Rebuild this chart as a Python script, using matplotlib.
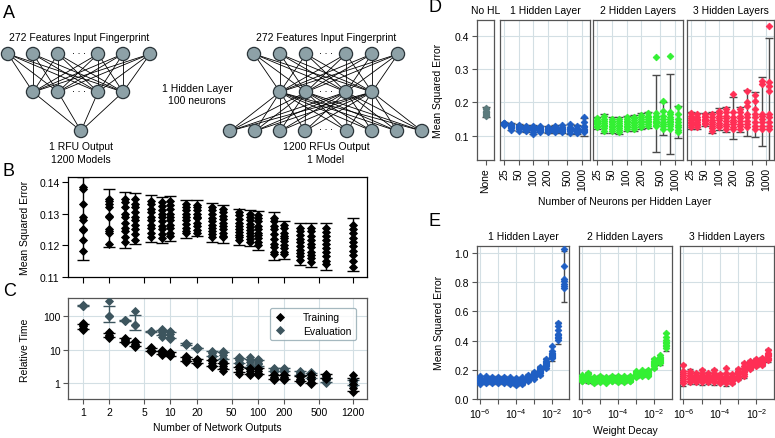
import numpy as np
import matplotlib
matplotlib.use("Agg")
import matplotlib.pyplot as plt
from matplotlib.patches import Circle
from matplotlib.ticker import NullLocator, FixedLocator

plt.rcParams['font.family'] = ['Liberation Sans', 'DejaVu Sans']
plt.rcParams['mathtext.fontset'] = 'custom'
plt.rcParams['mathtext.rm'] = 'Liberation Sans'
plt.rcParams['mathtext.it'] = 'Liberation Sans:italic'
plt.rcParams['mathtext.bf'] = 'Liberation Sans:bold'
plt.rcParams['font.size'] = 7.5

# ---------------- data ----------------
b_outputs = [1, 2, 3, 4, 6, 8, 10, 15, 20, 30, 40, 60, 80, 100, 150, 200, 300, 400, 600, 1200]
b_mse = [
    [0.1385, 0.1378, 0.1330, 0.1288, 0.1278, 0.1252, 0.1248, 0.1215, 0.1183],
    [0.1345, 0.1340, 0.1330, 0.1320, 0.1293, 0.1290, 0.1250, 0.1245, 0.1240, 0.1205],
    [0.1345, 0.1335, 0.1320, 0.1300, 0.1290, 0.1270, 0.1255, 0.1245, 0.1225, 0.1210],
    [0.1345, 0.1330, 0.1320, 0.1305, 0.1290, 0.1280, 0.1265, 0.1250, 0.1235, 0.1215],
    [0.1340, 0.1330, 0.1315, 0.1305, 0.1290, 0.1280, 0.1265, 0.1255, 0.1240, 0.1225],
    [0.1335, 0.1325, 0.1310, 0.1300, 0.1290, 0.1275, 0.1262, 0.1250, 0.1235, 0.1222],
    [0.1338, 0.1328, 0.1315, 0.1300, 0.1290, 0.1280, 0.1265, 0.1255, 0.1240, 0.1228],
    [0.1330, 0.1320, 0.1310, 0.1300, 0.1290, 0.1280, 0.1268, 0.1255, 0.1245, 0.1238],
    [0.1328, 0.1320, 0.1310, 0.1298, 0.1290, 0.1285, 0.1270, 0.1260, 0.1248, 0.1240],
    [0.1320, 0.1310, 0.1298, 0.1285, 0.1275, 0.1265, 0.1255, 0.1245, 0.1235, 0.1225],
    [0.1315, 0.1305, 0.1292, 0.1282, 0.1270, 0.1262, 0.1250, 0.1240, 0.1230, 0.1225],
    [0.1305, 0.1295, 0.1283, 0.1270, 0.1262, 0.1250, 0.1242, 0.1233, 0.1225, 0.1215],
    [0.1300, 0.1290, 0.1280, 0.1268, 0.1258, 0.1248, 0.1240, 0.1230, 0.1220, 0.1210],
    [0.1295, 0.1285, 0.1275, 0.1262, 0.1250, 0.1240, 0.1232, 0.1222, 0.1210, 0.1200],
    [0.1285, 0.1275, 0.1262, 0.1250, 0.1235, 0.1220, 0.1205, 0.1195, 0.1180, 0.1172],
    [0.1265, 0.1255, 0.1240, 0.1230, 0.1222, 0.1212, 0.1200, 0.1190, 0.1180, 0.1172],
    [0.1255, 0.1245, 0.1232, 0.1220, 0.1210, 0.1198, 0.1185, 0.1175, 0.1165, 0.1155],
    [0.1255, 0.1245, 0.1230, 0.1218, 0.1205, 0.1195, 0.1180, 0.1170, 0.1160, 0.1148],
    [0.1255, 0.1242, 0.1228, 0.1215, 0.1205, 0.1190, 0.1178, 0.1165, 0.1150, 0.1140],
    [0.1265, 0.1252, 0.1238, 0.1222, 0.1210, 0.1198, 0.1182, 0.1168, 0.1150, 0.1133],
]

c_ticks = [1, 2, 5, 10, 20, 50, 100, 200, 500, 1200]
c_train = [
    [38, 44, 50, 56, 63], [23, 26, 28, 31, 34], [16, 18, 19.5, 21, 23], [12, 14, 15, 16.5, 18],
    [8.5, 9.5, 10, 11, 12], [7, 7.8, 8.3, 9, 9.8], [6.3, 7, 7.4, 8, 8.6], [4.3, 4.8, 5.2, 5.7, 6.3],
    [3.7, 4.1, 4.5, 4.9, 5.4], [3.0, 3.5, 3.9, 4.5, 5.2], [2.3, 2.8, 3.3, 3.8, 4.2], [1.9, 2.2, 2.6, 3.0, 3.3],
    [1.7, 2.0, 2.3, 2.6, 2.9], [1.7, 2.0, 2.3, 2.6, 2.9], [1.2, 1.4, 1.5, 1.7, 1.9], [1.2, 1.4, 1.5, 1.7, 1.9],
    [1.05, 1.2, 1.35, 1.5, 1.7], [0.93, 1.1, 1.3, 1.55, 1.9], [1.3, 1.45, 1.6, 1.75, 1.9], [0.52, 0.7, 0.9, 1.2, 1.7],
]
c_eval = [
    [205, 208, 210, 212, 215], [282, 104, 104, 104, 104], [72, 74, 75, 76, 78], [147, 56, 56, 56, 56],
    [34, 35, 35.5, 36, 37], [41.5, 37, 35, 30, 24.5], [37, 33, 29, 24, 21], [14, 14.5, 14.8, 15.2, 15.6],
    [10.7, 11, 11.2, 11.4, 11.7], [5.9, 6.8, 7.8, 8.6, 9.3], [4.7, 5.8, 6.8, 8.0, 9.3], [3.7, 4.3, 4.9, 5.4, 5.9],
    [2.6, 3.4, 4.2, 5.0, 5.9], [3.0, 3.6, 4.1, 4.7, 5.2], [2.1, 2.3, 2.5, 2.7, 2.9], [2.1, 2.3, 2.5, 2.7, 2.9],
    [1.7, 1.85, 2.0, 2.15, 2.3], [1.3, 1.5, 1.7, 1.9, 2.1], [1.0, 1.1, 1.2, 1.35, 1.5], [0.83, 0.95, 1.05, 1.15, 1.3],
]

d_neurons = [25, 35, 50, 71, 100, 141, 200, 283, 400, 566, 800, 1131]
d_ticks = [25, 50, 100, 200, 500, 1000]
d_none = [0.160, 0.163, 0.166, 0.168, 0.170, 0.172, 0.175, 0.180, 0.183]
d_hl1 = [
    [0.133, 0.135, 0.136, 0.137, 0.138, 0.139, 0.136, 0.134],
    [0.118, 0.122, 0.125, 0.128, 0.130, 0.132, 0.134, 0.126],
    [0.115, 0.119, 0.122, 0.125, 0.127, 0.129, 0.131, 0.124],
    [0.113, 0.117, 0.120, 0.122, 0.125, 0.127, 0.130, 0.121],
    [0.105, 0.112, 0.116, 0.119, 0.122, 0.125, 0.128, 0.118],
    [0.112, 0.115, 0.118, 0.120, 0.122, 0.125, 0.128, 0.119],
    [0.110, 0.114, 0.117, 0.119, 0.121, 0.124, 0.127, 0.118],
    [0.110, 0.114, 0.117, 0.120, 0.122, 0.125, 0.130, 0.119],
    [0.110, 0.114, 0.118, 0.120, 0.123, 0.126, 0.132, 0.120],
    [0.108, 0.113, 0.117, 0.120, 0.123, 0.127, 0.135, 0.119],
    [0.108, 0.112, 0.115, 0.118, 0.121, 0.124, 0.130, 0.117],
    [0.110, 0.114, 0.118, 0.121, 0.125, 0.130, 0.140, 0.155],
]
d_hl2 = [
    [0.125, 0.130, 0.134, 0.137, 0.140, 0.143, 0.148, 0.153],
    [0.115, 0.122, 0.128, 0.133, 0.138, 0.143, 0.150, 0.160],
    [0.115, 0.120, 0.125, 0.130, 0.135, 0.140, 0.145, 0.150],
    [0.110, 0.117, 0.123, 0.128, 0.133, 0.138, 0.144, 0.150],
    [0.120, 0.125, 0.130, 0.135, 0.140, 0.145, 0.150, 0.155],
    [0.120, 0.126, 0.132, 0.137, 0.142, 0.147, 0.152, 0.157],
    [0.125, 0.130, 0.135, 0.140, 0.145, 0.150, 0.156, 0.163],
    [0.130, 0.135, 0.140, 0.145, 0.150, 0.155, 0.160, 0.167],
    [0.130, 0.133, 0.137, 0.141, 0.145, 0.150, 0.155, 0.160, 0.168, 0.335],
    [0.120, 0.128, 0.135, 0.142, 0.150, 0.160, 0.175, 0.203],
    [0.120, 0.128, 0.135, 0.142, 0.145, 0.150, 0.157, 0.165, 0.172, 0.340],
    [0.110, 0.118, 0.125, 0.132, 0.140, 0.150, 0.165, 0.187],
]
d_hl3 = [
    [0.125, 0.131, 0.137, 0.142, 0.147, 0.152, 0.158, 0.167],
    [0.125, 0.131, 0.136, 0.141, 0.146, 0.151, 0.157, 0.165],
    [0.135, 0.139, 0.143, 0.147, 0.151, 0.155, 0.160, 0.165],
    [0.115, 0.122, 0.129, 0.135, 0.141, 0.148, 0.156, 0.165],
    [0.125, 0.132, 0.139, 0.146, 0.152, 0.159, 0.167, 0.175],
    [0.120, 0.128, 0.136, 0.144, 0.152, 0.160, 0.170, 0.180],
    [0.120, 0.127, 0.134, 0.141, 0.148, 0.156, 0.170, 0.225],
    [0.120, 0.128, 0.136, 0.144, 0.152, 0.160, 0.170, 0.180],
    [0.125, 0.135, 0.145, 0.155, 0.165, 0.190, 0.200, 0.235],
    [0.120, 0.130, 0.140, 0.155, 0.165, 0.180, 0.205, 0.222],
    [0.120, 0.130, 0.140, 0.150, 0.158, 0.165, 0.255, 0.265],
    [0.120, 0.130, 0.140, 0.155, 0.165, 0.235, 0.250, 0.260, 0.428],
]

e_decay = [1e-6, 2.15e-6, 4.64e-6, 1e-5, 2.15e-5, 4.64e-5, 1e-4, 2.15e-4, 4.64e-4,
           1e-3, 2.15e-3, 4.64e-3, 1e-2, 2.15e-2, 4.64e-2]
e_hl1 = [
    [0.105, 0.115, 0.122, 0.128, 0.133, 0.138, 0.145, 0.155],
    [0.110, 0.118, 0.124, 0.130, 0.135, 0.140, 0.146, 0.155],
    [0.110, 0.117, 0.123, 0.129, 0.134, 0.139, 0.145, 0.152],
    [0.110, 0.117, 0.123, 0.128, 0.133, 0.138, 0.144, 0.152],
    [0.108, 0.115, 0.121, 0.127, 0.132, 0.137, 0.143, 0.150],
    [0.105, 0.112, 0.118, 0.124, 0.130, 0.135, 0.140, 0.148],
    [0.095, 0.105, 0.112, 0.118, 0.124, 0.130, 0.136, 0.142],
    [0.105, 0.112, 0.118, 0.124, 0.130, 0.135, 0.140, 0.148],
    [0.120, 0.128, 0.135, 0.141, 0.147, 0.153, 0.158, 0.165],
    [0.140, 0.148, 0.155, 0.161, 0.167, 0.173, 0.180, 0.188],
    [0.165, 0.175, 0.183, 0.190, 0.197, 0.204, 0.212, 0.220],
    [0.215, 0.225, 0.233, 0.240, 0.247, 0.254, 0.262, 0.272],
    [0.280, 0.288, 0.295, 0.302, 0.308, 0.315, 0.330, 0.365],
    [0.405, 0.415, 0.425, 0.435, 0.445, 0.470, 0.500, 0.520],
    [0.760, 0.775, 0.790, 0.805, 0.820, 0.910, 1.025],
]
e_hl2 = [
    [0.120, 0.126, 0.132, 0.138, 0.143, 0.148, 0.154, 0.162],
    [0.120, 0.128, 0.136, 0.143, 0.150, 0.158, 0.168, 0.180],
    [0.110, 0.117, 0.123, 0.129, 0.134, 0.139, 0.145, 0.152],
    [0.115, 0.121, 0.127, 0.133, 0.138, 0.143, 0.149, 0.156],
    [0.112, 0.118, 0.124, 0.129, 0.134, 0.139, 0.144, 0.150],
    [0.120, 0.126, 0.132, 0.137, 0.142, 0.147, 0.153, 0.160],
    [0.118, 0.124, 0.130, 0.136, 0.141, 0.146, 0.152, 0.158],
    [0.115, 0.121, 0.127, 0.133, 0.138, 0.143, 0.149, 0.155],
    [0.120, 0.126, 0.132, 0.137, 0.142, 0.147, 0.153, 0.160],
    [0.150, 0.156, 0.161, 0.166, 0.171, 0.176, 0.182, 0.190],
    [0.155, 0.161, 0.167, 0.172, 0.177, 0.182, 0.188, 0.196],
    [0.160, 0.166, 0.172, 0.177, 0.182, 0.187, 0.193, 0.200],
    [0.215, 0.224, 0.232, 0.239, 0.246, 0.253, 0.261, 0.272],
    [0.245, 0.252, 0.259, 0.265, 0.271, 0.278, 0.286, 0.300],
    [0.350, 0.362, 0.373, 0.383, 0.393, 0.405, 0.425, 0.450],
]
e_hl3 = [
    [0.110, 0.125, 0.138, 0.150, 0.162, 0.175, 0.195, 0.235],
    [0.115, 0.125, 0.135, 0.145, 0.155, 0.165, 0.178, 0.195],
    [0.115, 0.124, 0.133, 0.142, 0.150, 0.158, 0.167, 0.178],
    [0.115, 0.125, 0.135, 0.145, 0.155, 0.165, 0.180, 0.200],
    [0.115, 0.124, 0.133, 0.142, 0.150, 0.158, 0.167, 0.180],
    [0.115, 0.125, 0.135, 0.145, 0.155, 0.165, 0.180, 0.200],
    [0.110, 0.118, 0.126, 0.134, 0.142, 0.150, 0.158, 0.168],
    [0.110, 0.120, 0.130, 0.140, 0.150, 0.160, 0.175, 0.210],
    [0.112, 0.120, 0.128, 0.136, 0.144, 0.152, 0.160, 0.170],
    [0.140, 0.150, 0.160, 0.170, 0.178, 0.186, 0.195, 0.205],
    [0.160, 0.172, 0.184, 0.195, 0.205, 0.215, 0.228, 0.245],
    [0.205, 0.213, 0.221, 0.229, 0.236, 0.243, 0.251, 0.262],
    [0.225, 0.233, 0.240, 0.247, 0.253, 0.259, 0.266, 0.275],
    [0.230, 0.238, 0.245, 0.252, 0.258, 0.264, 0.271, 0.280],
    [0.265, 0.275, 0.284, 0.292, 0.300, 0.308, 0.318, 0.335],
]

layer_titles = ['1 Hidden Layer', '2 Hidden Layers', '3 Hidden Layers']
layer_colors = ['#1f5fc4', '#33f033', '#ff2f55']
none_color = '#5c7b7d'
eval_color = '#3d555e'
grid_color = '#d3dfe4'
frame_color = '#555555'
err_color = '#4a4a4a'

# ---------------- figure ----------------
W, H = 775, 439
fig = plt.figure(figsize=(W / 100, H / 100), dpi=100)


def px_axes(x0, y0, x1, y1, **kw):
    return fig.add_axes([x0 / W, 1 - y1 / H, (x1 - x0) / W, (y1 - y0) / H], **kw)


def style_frame(ax, color=frame_color):
    for s in ax.spines.values():
        s.set_color(color)
        s.set_linewidth(0.9)
    ax.tick_params(direction='out', length=3.5, width=0.8, color=color,
                   labelsize=7.5, pad=2)


def letter(x, y, t):
    fig.text(x / W, 1 - y / H, t, fontsize=13, ha='left', va='center')


def dots(ax, x, vals, col, ms):
    ax.plot([x] * len(vals), vals, 'D', ms=ms, color=col, mec=col, mew=0.6, zorder=3)

# ---------------- Panel A ----------------
axA = px_axes(0, 0, 440, 170)
axA.set_xlim(0, 440)
axA.set_ylim(170, 0)
axA.axis('off')
node_face = '#8da1a7'
rows_y = [55, 93, 132]
nets = [
    ([8, 33, 58, 98, 123, 150], [33, 58, 98, 123], [81], 79),
    ([254, 280, 306, 346, 372, 398], [280, 306, 346, 372], [230, 255, 280, 305, 347, 372, 397, 422], 326),
]
for ins, hid, outs, cx in nets:
    for a in ins:
        for b in hid:
            axA.plot([a, b], [rows_y[0], rows_y[1]], color='black', lw=0.6, zorder=1)
    for a in hid:
        for b in outs:
            axA.plot([a, b], [rows_y[1], rows_y[2]], color='black', lw=0.6, zorder=1)
    for xs, yy in ((ins, rows_y[0]), (hid, rows_y[1]), (outs, rows_y[2])):
        for xx in xs:
            axA.add_patch(Circle((xx, yy), 6.6, facecolor=node_face,
                                 edgecolor='#2a3439', lw=0.9, zorder=3))
    axA.text(cx, rows_y[0] - 2, '· · ·', ha='center', va='center', fontsize=6.5, zorder=4)
    axA.text(cx, rows_y[1] - 2, '· · ·', ha='center', va='center', fontsize=6.5, zorder=4)
    axA.text(cx, 38, '272 Features Input Fingerprint', ha='center', va='center', fontsize=7.5)
axA.text(326, rows_y[2] - 2, '· · ·', ha='center', va='center', fontsize=6.5, zorder=4)
axA.text(197, 89, '1 Hidden Layer', ha='center', va='center', fontsize=7.5)
axA.text(197, 101.5, '100 neurons', ha='center', va='center', fontsize=7.5)
axA.text(81, 147, '1 RFU Output', ha='center', va='center', fontsize=7.5)
axA.text(81, 160, '1200 Models', ha='center', va='center', fontsize=7.5)
axA.text(326, 147, '1200 RFUs Output', ha='center', va='center', fontsize=7.5)
axA.text(326, 160, '1 Model', ha='center', va='center', fontsize=7.5)
letter(3, 14, 'A')

# ---------------- Panel B ----------------
axB = px_axes(68, 178, 367, 278)
for x, vals in zip(b_outputs, b_mse):
    v = np.array(vals)
    axB.errorbar(x, v.mean(), yerr=2 * v.std(), color='black', capsize=4.2,
                 capthick=1, lw=1, zorder=2)
    dots(axB, x, v, 'black', 3.6)
axB.set_xscale('log')
axB.set_xlim(0.68, 1745)
axB.set_ylim(0.11, 0.1415)
axB.xaxis.set_major_locator(FixedLocator(c_ticks))
axB.xaxis.set_minor_locator(NullLocator())
axB.set_xticklabels([])
axB.set_yticks([0.11, 0.12, 0.13, 0.14])
axB.set_yticklabels(['0.11', '0.12', '0.13', '0.14'])
style_frame(axB, 'black')
axB.tick_params(colors='black', length=4)
fig.text(25 / W, 1 - 228 / H, 'Mean Squared Error', rotation=90, ha='center', va='center', fontsize=7.5)
letter(3, 172, 'B')

# ---------------- Panel C ----------------
axC = px_axes(68, 299, 367, 400)
for x, tr, ev in zip(b_outputs, c_train, c_eval):
    for vals, col in ((ev, eval_color), (tr, 'black')):
        v = np.array(vals, dtype=float)
        axC.errorbar(x, v.mean(), yerr=v.std(), color=col, capsize=4.2,
                     capthick=1, lw=1, zorder=2)
        dots(axC, x, v, col, 3.6)
axC.set_xscale('log')
axC.set_yscale('log')
axC.set_xlim(0.68, 1745)
axC.set_ylim(0.33, 355)
axC.xaxis.set_major_locator(FixedLocator(c_ticks))
axC.xaxis.set_minor_locator(NullLocator())
axC.set_xticklabels([str(t) for t in c_ticks])
axC.yaxis.set_major_locator(FixedLocator([1, 10, 100]))
axC.yaxis.set_minor_locator(NullLocator())
axC.set_yticklabels(['1', '10', '100'])
axC.grid(True, color=grid_color, lw=0.8)
axC.set_axisbelow(True)
style_frame(axC)
axC.set_xlabel('Number of Network Outputs', fontsize=7.5, labelpad=4)
fig.text(25 / W, 1 - 350 / H, 'Relative Time', rotation=90, ha='center', va='center', fontsize=7.5)
h1 = axC.plot([], [], 'D', ms=3.6, color='black', mew=0.6, label='Training')[0]
h2 = axC.plot([], [], 'D', ms=3.6, color=eval_color, mew=0.6, label='Evaluation')[0]
leg = axC.legend(handles=[h1, h2], loc='upper right', bbox_to_anchor=(0.98, 0.95),
                 fontsize=7.5, frameon=True, handletextpad=1.6, borderpad=0.4,
                 labelspacing=0.35, handlelength=1.2)
leg.get_frame().set_edgecolor('#8fa7b0')
leg.get_frame().set_linewidth(0.9)
letter(3, 292, 'C')

# ---------------- Panel D ----------------
d_ylim = (0.028, 0.448)
axN = px_axes(476.7, 20.7, 494.3, 160.7)
vN = np.array(d_none)
axN.errorbar(0, vN.mean(), yerr=2 * vN.std(), color=err_color, capsize=2.6, capthick=1, lw=1, zorder=2)
dots(axN, 0, vN, none_color, 3.4)
axN.set_xlim(-1, 1)
axN.set_ylim(*d_ylim)
axN.set_xticks([0])
axN.set_xticklabels(['None'], rotation=90)
axN.set_yticks([0.1, 0.2, 0.3, 0.4])
axN.set_yticklabels(['0.1', '0.2', '0.3', '0.4'])
axN.grid(True, axis='y', color=grid_color, lw=0.8)
axN.set_axisbelow(True)
style_frame(axN)
axN.set_title('No HL', fontsize=7.5, pad=5)

d_boxes = [(500, 590), (593.3, 683.3), (686.7, 774.3)]
for (x0, x1), data, col, title in zip(d_boxes, [d_hl1, d_hl2, d_hl3], layer_colors, layer_titles):
    ax = px_axes(x0, 20.7, x1, 160.7)
    for x, vals in zip(d_neurons, data):
        v = np.array(vals)
        ax.errorbar(x, v.mean(), yerr=2 * v.std(), color=err_color, capsize=2.6,
                    capthick=1, lw=1, zorder=2)
        dots(ax, x, v, col, 3.4)
    ax.set_xscale('log')
    ax.set_xlim(20.7, 1480)
    ax.set_ylim(*d_ylim)
    ax.xaxis.set_major_locator(FixedLocator(d_ticks))
    ax.xaxis.set_minor_locator(NullLocator())
    ax.set_xticklabels([str(t) for t in d_ticks], rotation=90)
    ax.set_yticks([0.1, 0.2, 0.3, 0.4])
    ax.set_yticklabels([])
    ax.grid(True, color=grid_color, lw=0.8)
    ax.set_axisbelow(True)
    style_frame(ax)
    ax.tick_params(axis='y', length=0)
    ax.set_title(title, fontsize=7.5, pad=5)
fig.text(625 / W, 1 - 202 / H, 'Number of Neurons per Hidden Layer', ha='center', va='center', fontsize=7.5)
fig.text(438 / W, 1 - 91 / H, 'Mean Squared Error', rotation=90, ha='center', va='center', fontsize=7.5)
letter(428, 8, 'D')

# ---------------- Panel E ----------------
e_boxes = [(476.7, 569.3), (578.7, 671.7), (680, 774.3)]
for i, ((x0, x1), data, col, title) in enumerate(zip(e_boxes, [e_hl1, e_hl2, e_hl3], layer_colors, layer_titles)):
    ax = px_axes(x0, 246.7, x1, 400)
    for x, vals in zip(e_decay, data):
        v = np.array(vals)
        ax.errorbar(x, v.mean(), yerr=2 * v.std(), color=err_color, capsize=2.4,
                    capthick=1, lw=1, zorder=2)
        dots(ax, x, v, col, 3.4)
    ax.set_xscale('log')
    ax.set_xlim(10 ** -6.19, 10 ** -1.01)
    ax.set_ylim(0, 1.05)
    dec = [1e-6, 1e-5, 1e-4, 1e-3, 1e-2, 1e-1]
    ax.xaxis.set_major_locator(FixedLocator(dec))
    ax.xaxis.set_minor_locator(NullLocator())
    ax.set_xticklabels(['$10^{-6}$', '', '$10^{-4}$', '', '$10^{-2}$', ''])
    ax.set_yticks([0.0, 0.2, 0.4, 0.6, 0.8, 1.0])
    if i == 0:
        ax.set_yticklabels(['0.0', '0.2', '0.4', '0.6', '0.8', '1.0'])
    else:
        ax.set_yticklabels([])
    ax.grid(True, color=grid_color, lw=0.8)
    ax.set_axisbelow(True)
    style_frame(ax)
    if i > 0:
        ax.tick_params(axis='y', length=0)
    ax.set_title(title, fontsize=7.5, pad=5)
fig.text(625 / W, 1 - 431 / H, 'Weight Decay', ha='center', va='center', fontsize=7.5)
fig.text(439 / W, 1 - 323 / H, 'Mean Squared Error', rotation=90, ha='center', va='center', fontsize=7.5)
letter(428, 222, 'E')

fig.savefig('out.png', dpi=100)
